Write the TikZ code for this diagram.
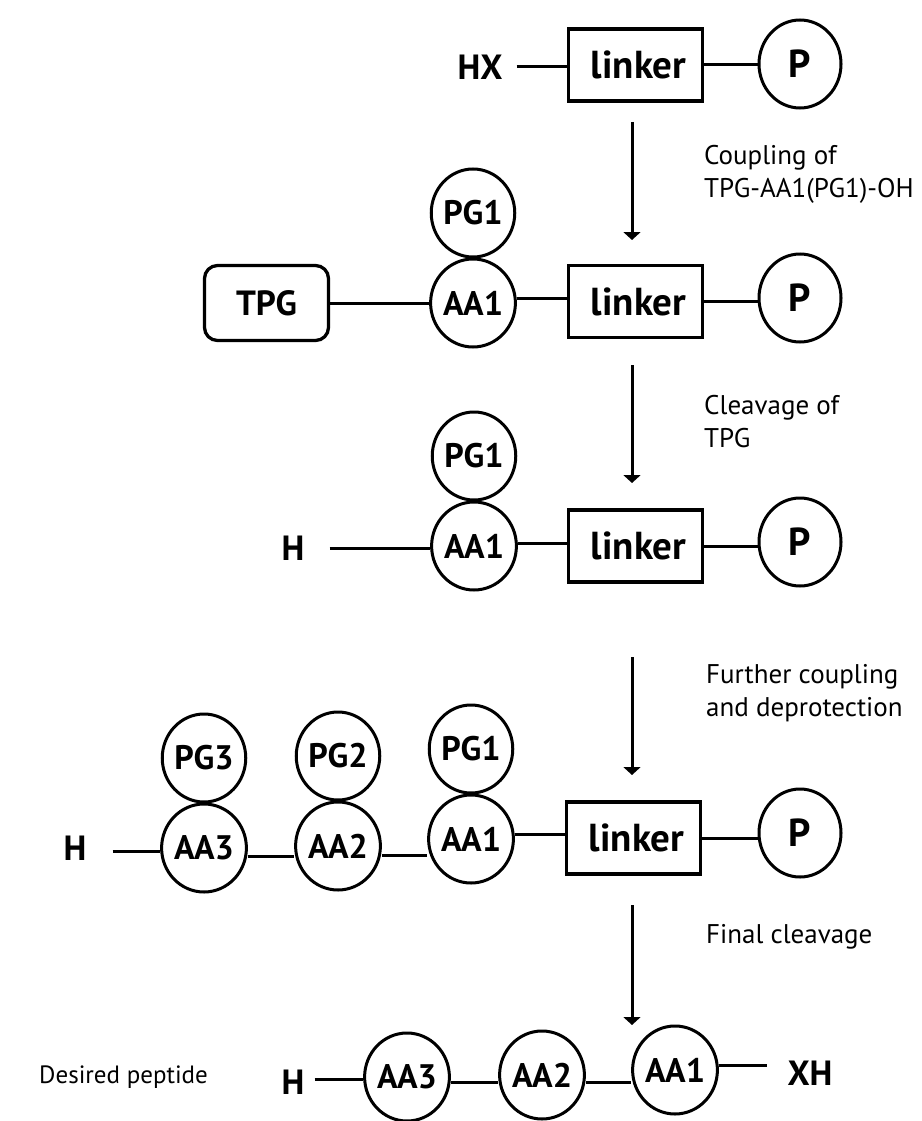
\documentclass[tikz,border=0pt]{standalone}
\usepackage{fontspec}
\setmainfont{PT Sans}
\usetikzlibrary{arrows.meta,shapes.geometric}
\begin{document}
\begin{tikzpicture}[x=1pt,y=-1pt,
  ring/.style={ellipse, draw, line width=3pt, minimum width=82pt, minimum height=88pt,
    inner sep=0pt, font=\bfseries\fontsize{34}{36}\selectfont},
  bigring/.style={ring, font=\bfseries\fontsize{39}{41}\selectfont},
  linkbox/.style={rectangle, draw, line width=3.3pt, minimum width=134pt, minimum height=72pt,
    inner sep=0pt, font=\bfseries\fontsize{39}{42}\selectfont},
  tpgbox/.style={rectangle, rounded corners=13pt, draw, line width=3.3pt, minimum width=124pt,
    minimum height=75pt, inner sep=0pt, font=\bfseries\fontsize{35}{38}\selectfont},
  term/.style={inner sep=0pt, font=\bfseries\fontsize{35}{38}\selectfont},
  bond/.style={line width=3pt},
  rxn/.style={line width=3pt, -{Triangle[width=17pt,length=8pt]}},
  note/.style={inner sep=0pt, anchor=west, align=left, font=\fontsize{27}{33}\selectfont},
]
\useasboundingbox (0,0) rectangle (921,1121);

% --- resin-bound linker
\node[term] (hx) at (480,67) {HX};
\node[linkbox] (lk1) at (635.5,65) {\hspace*{6pt}linker};
\node[bigring] (p1) at (800,64) {P};
\draw[bond, shorten <=14pt] (hx.east) -- (hx.east -| lk1.west);
\draw[bond] (lk1.east) -- (lk1.east -| p1.west);

% --- step 1
\coordinate (s1) at (632,122);
\coordinate (e1) at (632,240);
\draw[rxn] (s1) -- (e1);
\node[note] (t1) at (704,174.5) {Coupling of\\TPG-AA1(PG1)-OH};

% --- after first coupling
\node[tpgbox] (tpg) at (266.5,303) {TPG};
\node[ring] (aa1b) at (473,303) {AA1};
\node[ring] (pg1b) at (473,213) {PG1};
\node[linkbox] (lk2) at (635.5,301.5) {\hspace*{6pt}linker};
\node[bigring] (p2) at (800,298) {P};
\draw[bond] (tpg.east) -- (tpg.east -| aa1b.west);
\draw[bond] ([yshift=5pt]aa1b.east) -- ([yshift=5pt]aa1b.east -| lk2.west);
\draw[bond] (lk2.east) -- (lk2.east -| p2.west);

% --- step 2
\coordinate (s2) at (632,365);
\coordinate (e2) at (632,483);
\draw[rxn] (s2) -- (e2);
\node[note] (t2) at (704,421.5) {Cleavage of\\TPG};

% --- free amine
\node[term] (h3) at (293,548) {H};
\node[ring] (aa1c) at (474,546) {AA1};
\node[ring] (pg1c) at (474,456) {PG1};
\node[linkbox] (lk3) at (635.5,546) {\hspace*{6pt}linker};
\node[bigring] (p3) at (800,542) {P};
\draw[bond, shorten <=25pt] (h3.east) -- (h3.east -| aa1c.west);
\draw[bond] ([yshift=3pt]aa1c.east) -- ([yshift=3pt]aa1c.east -| lk3.west);
\draw[bond] (lk3.east) -- (lk3.east -| p3.west);

% --- step 3
\coordinate (s3) at (632,657);
\coordinate (e3) at (632,775);
\draw[rxn] (s3) -- (e3);
\node[note] (t3) at (706,693.5) {Further coupling\\and deprotection};

% --- protected tripeptide on resin
\node[term] (h4) at (75,848) {H};
\node[ring] (aa3) at (204,848) {AA3};
\node[ring] (pg3) at (204,758) {PG3};
\node[ring] (aa2) at (338,846) {AA2};
\node[ring] (pg2) at (338,756) {PG2};
\node[ring] (aa1d) at (471,839) {AA1};
\node[ring] (pg1d) at (471,749) {PG1};
\node[linkbox] (lk4) at (633.5,838) {\hspace*{6pt}linker};
\node[bigring] (p4) at (800,833) {P};
\draw[bond, shorten <=26pt] ([yshift=-3pt]h4.east) -- ([yshift=-3pt]h4.east -| aa3.west);
\draw[bond] ([yshift=-8pt]aa3.east) -- ([yshift=-8pt]aa3.east -| aa2.west);
\draw[bond] ([yshift=-9pt]aa2.east) -- ([yshift=-9pt]aa2.east -| aa1d.west);
\draw[bond] ([yshift=5pt]aa1d.east) -- ([yshift=5pt]aa1d.east -| lk4.west);
\draw[bond] (lk4.east) -- (lk4.east -| p4.west);

% --- step 4
\coordinate (s4) at (632,905);
\coordinate (e4) at (632,1025);
\draw[rxn] (s4) -- (e4);
\node[note] (t4) at (706,937) {Final cleavage};

% --- released peptide
\node[note, font=\fontsize{25}{28}\selectfont] (t5) at (39,1077) {Desired peptide};
\node[term] (h5) at (293,1082) {H};
\node[ring] (aa3e) at (407,1077) {AA3};
\node[ring] (aa2e) at (542,1075) {AA2};
\node[ring] (aa1e) at (675,1070) {AA1};
\node[term] (xh) at (810,1073) {XH};
\draw[bond, shorten <=10pt] ([yshift=3pt]h5.east) -- ([yshift=3pt]h5.east -| aa3e.west);
\draw[bond] ([yshift=-5pt]aa3e.east) -- ([yshift=-5pt]aa3e.east -| aa2e.west);
\draw[bond] ([yshift=-7pt]aa2e.east) -- ([yshift=-7pt]aa2e.east -| aa1e.west);
\draw[bond, shorten >=20pt] ([yshift=5pt]aa1e.east) -- ([yshift=5pt]aa1e.east -| xh.west);
\end{tikzpicture}
\end{document}
